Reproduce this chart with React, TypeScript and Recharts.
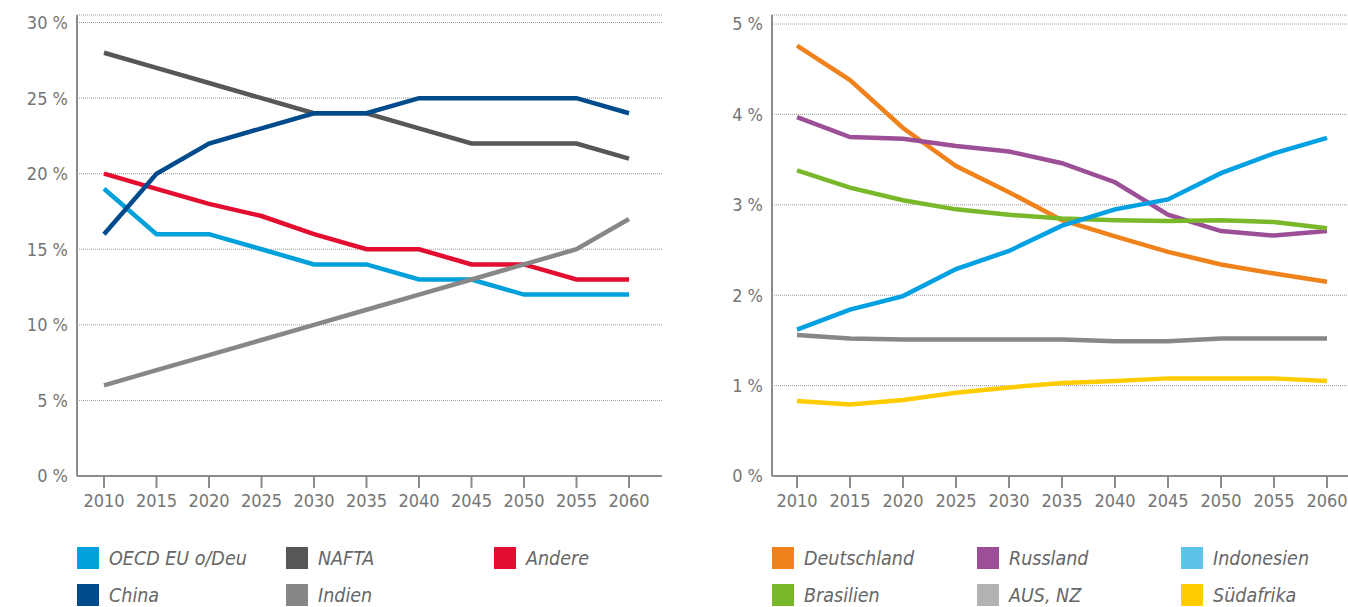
import { CartesianGrid, Line, LineChart, XAxis, YAxis } from "recharts";

const years = [2010, 2015, 2020, 2025, 2030, 2035, 2040, 2045, 2050, 2055, 2060];

// left chart: shares in %
const oecdEu = [19, 16, 16, 15, 14, 14, 13, 13, 12, 12, 12];
const nafta = [28, 27, 26, 25, 24, 24, 23, 22, 22, 22, 21];
const andere = [20, 19, 18, 17.2, 16, 15, 15, 14, 14, 13, 13];
const china = [16, 20, 22, 23, 24, 24, 25, 25, 25, 25, 24];
const indien = [6, 7, 8, 9, 10, 11, 12, 13, 14, 15, 17];

// right chart: shares in %
const deutschland = [4.76, 4.38, 3.85, 3.43, 3.14, 2.83, 2.65, 2.48, 2.34, 2.24, 2.15];
const russland = [3.97, 3.75, 3.73, 3.65, 3.59, 3.46, 3.25, 2.89, 2.71, 2.66, 2.71];
const brasilien = [3.38, 3.19, 3.05, 2.95, 2.89, 2.85, 2.83, 2.82, 2.83, 2.81, 2.74];
const indonesien = [1.62, 1.84, 1.99, 2.29, 2.49, 2.77, 2.95, 3.06, 3.35, 3.57, 3.74];
const ausNz = [1.56, 1.52, 1.51, 1.51, 1.51, 1.51, 1.49, 1.49, 1.52, 1.52, 1.52];
const suedafrika = [0.83, 0.79, 0.84, 0.92, 0.98, 1.03, 1.05, 1.08, 1.08, 1.08, 1.05];

const leftTicks = [0, 5, 10, 15, 20, 25, 30];
const rightTicks = [0, 1, 2, 3, 4, 5];

const leftSeries = [
  { key: "oecd", name: "OECD EU o/Deu", values: oecdEu, color: "#00a0da", swatch: "#00a0da" },
  { key: "nafta", name: "NAFTA", values: nafta, color: "#575756", swatch: "#575756" },
  { key: "andere", name: "Andere", values: andere, color: "#e30d2f", swatch: "#e30d2f" },
  { key: "indien", name: "Indien", values: indien, color: "#878787", swatch: "#878787" },
  { key: "china", name: "China", values: china, color: "#004b8b", swatch: "#004b8b" },
];
const leftLegendOrder = ["oecd", "nafta", "andere", "china", "indien"];

const rightSeries = [
  { key: "de", name: "Deutschland", values: deutschland, color: "#f0821c", swatch: "#f0821c" },
  { key: "ru", name: "Russland", values: russland, color: "#9c4f96", swatch: "#9c4f96" },
  { key: "br", name: "Brasilien", values: brasilien, color: "#78b829", swatch: "#78b829" },
  { key: "au", name: "AUS, NZ", values: ausNz, color: "#878787", swatch: "#b2b2b2" },
  { key: "za", name: "Südafrika", values: suedafrika, color: "#ffcc00", swatch: "#ffcc00" },
  { key: "id", name: "Indonesien", values: indonesien, color: "#00a0e2", swatch: "#5dc4e8" },
];
const rightLegendOrder = ["de", "ru", "id", "br", "au", "za"];

const leftData = years.map((year, i) => {
  const row: Record<string, number> = { year };
  leftSeries.forEach((s) => (row[s.key] = s.values[i]));
  return row;
});
const rightData = years.map((year, i) => {
  const row: Record<string, number> = { year };
  rightSeries.forEach((s) => (row[s.key] = s.values[i]));
  return row;
});

const axisColor = "#8c8c8c";
const labelFont = "'DejaVu Sans Condensed', sans-serif";
const tickStyle = { fill: "#757575", fontSize: 18, fontFamily: labelFont };

type Series = { key: string; name: string; color: string; swatch: string };

function LegendBlock({ left, items, cols }: { left: number; items: Series[]; cols: number[] }) {
  return (
    <>
      {items.map((s, i) => {
        const col = cols[i % 3];
        const top = i < 3 ? 547 : 584;
        return (
          <div
            key={s.key}
            style={{ position: "absolute", left: left + col, top, height: 22, display: "flex", alignItems: "center" }}
          >
            <div style={{ width: 22, height: 22, background: s.swatch }} />
            <span
              style={{
                marginLeft: 10,
                fontFamily: labelFont,
                fontStyle: "italic",
                fontSize: 19.5,
                color: "#666",
                whiteSpace: "nowrap",
              }}
            >
              {s.name}
            </span>
          </div>
        );
      })}
    </>
  );
}

export default function App() {
  const leftLegend = leftLegendOrder.map((k) => leftSeries.find((s) => s.key === k)!);
  const rightLegend = rightLegendOrder.map((k) => rightSeries.find((s) => s.key === k)!);

  return (
    <div style={{ position: "absolute", left: 0, top: 0, width: 1348, height: 607, background: "#fff", overflow: "hidden" }}>
      <div style={{ position: "absolute", left: 0, top: 0 }}>
        <LineChart width={680} height={520} data={leftData} margin={{ top: 15, right: 18, bottom: 0, left: 0 }}>
          <CartesianGrid horizontal vertical={false} stroke="#9a9a9a" strokeDasharray="1 1" />
          <XAxis
            dataKey="year"
            padding={{ left: 27, right: 33 }}
            height={44}
            tickSize={12}
            tickMargin={6}
            tick={tickStyle}
            tickLine={{ stroke: axisColor, strokeWidth: 2 }}
            axisLine={{ stroke: axisColor, strokeWidth: 2 }}
          />
          <YAxis
            width={77}
            domain={[0, 30.5]}
            ticks={leftTicks}
            tickFormatter={(v) => `${v} %`}
            tick={tickStyle}
            tickSize={0}
            tickMargin={9}
            tickLine={false}
            axisLine={{ stroke: axisColor, strokeWidth: 2 }}
          />
          {leftSeries.map((s) => (
            <Line
              key={s.key}
              type="linear"
              dataKey={s.key}
              name={s.name}
              stroke={s.color}
              strokeWidth={4.5}
              dot={false}
              activeDot={false}
              isAnimationActive={false}
            />
          ))}
        </LineChart>
      </div>

      <div style={{ position: "absolute", left: 680, top: 0 }}>
        <LineChart width={668} height={520} data={rightData} margin={{ top: 15, right: 0, bottom: 0, left: 0 }}>
          <CartesianGrid horizontal vertical={false} stroke="#9a9a9a" strokeDasharray="1 1" />
          <XAxis
            dataKey="year"
            padding={{ left: 25, right: 21 }}
            height={44}
            tickSize={12}
            tickMargin={6}
            tick={tickStyle}
            tickLine={{ stroke: axisColor, strokeWidth: 2 }}
            axisLine={{ stroke: axisColor, strokeWidth: 2 }}
          />
          <YAxis
            width={92}
            domain={[0, 5.1]}
            ticks={rightTicks}
            tickFormatter={(v) => `${v} %`}
            tick={tickStyle}
            tickSize={0}
            tickMargin={9}
            tickLine={false}
            axisLine={{ stroke: axisColor, strokeWidth: 2 }}
          />
          {rightSeries.map((s) => (
            <Line
              key={s.key}
              type="linear"
              dataKey={s.key}
              name={s.name}
              stroke={s.color}
              strokeWidth={4.5}
              dot={false}
              activeDot={false}
              isAnimationActive={false}
            />
          ))}
        </LineChart>
      </div>

      <LegendBlock left={0} items={leftLegend} cols={[77, 286, 494]} />
      <LegendBlock left={680} items={rightLegend} cols={[92, 297, 501]} />
    </div>
  );
}
